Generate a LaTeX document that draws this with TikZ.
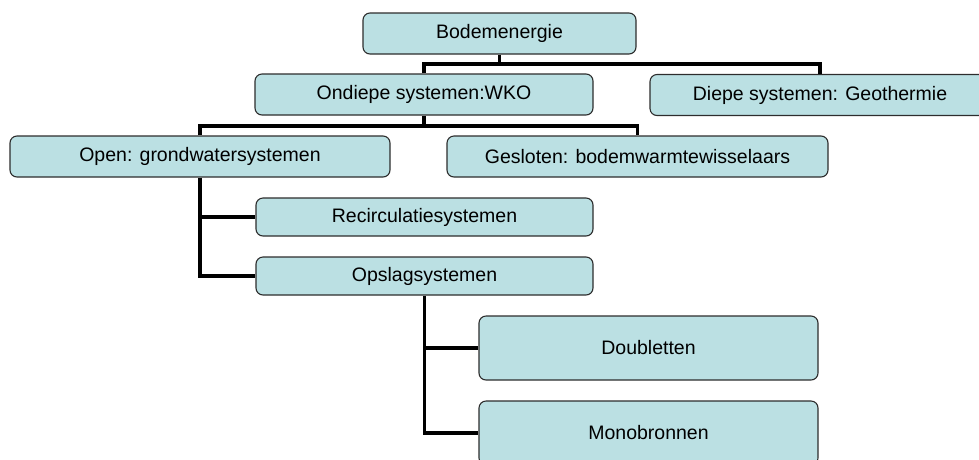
\documentclass[tikz,border=0pt]{standalone}
\usepackage{fontspec}
\setmainfont{Liberation Sans}
\definecolor{boxfill}{RGB}{187,224,227}
\definecolor{boxline}{RGB}{45,45,45}
\begin{document}
\begin{tikzpicture}[x=1pt,y=-1pt,
  box/.style={draw=boxline,line width=1.1pt,fill=boxfill,rounded corners=7pt,
    inner sep=0pt,font=\fontsize{19.5}{23}\selectfont,text=black},
  conn/.style={line width=3.6pt,line join=miter,black}]
\useasboundingbox (0,0) rectangle (979,459);
\node[box,minimum width=273pt,minimum height=41pt] (root) at (499.5,33.5) {Bodemenergie};
\node[box,minimum width=338pt,minimum height=41pt] (ond) at (424,94.5) {Ondiepe systemen:WKO};
\node[box,minimum width=340pt,minimum height=41pt] (diep) at (820,95) {Diepe systemen: Geothermie};
\node[box,minimum width=380pt,minimum height=41pt] (open) at (200,156.5) {Open: grondwatersystemen};
\node[box,minimum width=381pt,minimum height=41pt] (gesl) at (637.5,156.5) {Gesloten: bodemwarmtewisselaars};
\node[box,minimum width=337pt,minimum height=38pt] (recirc) at (424.5,217) {Recirculatiesystemen};
\node[box,minimum width=337pt,minimum height=38pt] (opslag) at (424.5,276) {Opslagsystemen};
\node[box,minimum width=339pt,minimum height=64pt] (doub) at (648.5,348) {Doubletten};
\node[box,minimum width=339pt,minimum height=64pt] (mono) at (648.5,433) {Monobronnen};
% connectors
\coordinate (j1) at (499.5,64);
\coordinate (j2) at (424,126);
\draw[conn] (root.south) -- (j1);
\draw[conn] (ond.north) |- (j1) -| (diep.north);
\draw[conn] (ond.south) -- (j2);
\draw[conn] (open.north) |- (j2) -| (gesl.north);
\draw[conn] (open.south) |- (opslag.west);
\draw[conn] (open.south |- recirc.west) -- (recirc.west);
\draw[conn] (opslag.south) |- (mono.west);
\draw[conn] (opslag.south |- doub.west) -- (doub.west);
\end{tikzpicture}
\end{document}
